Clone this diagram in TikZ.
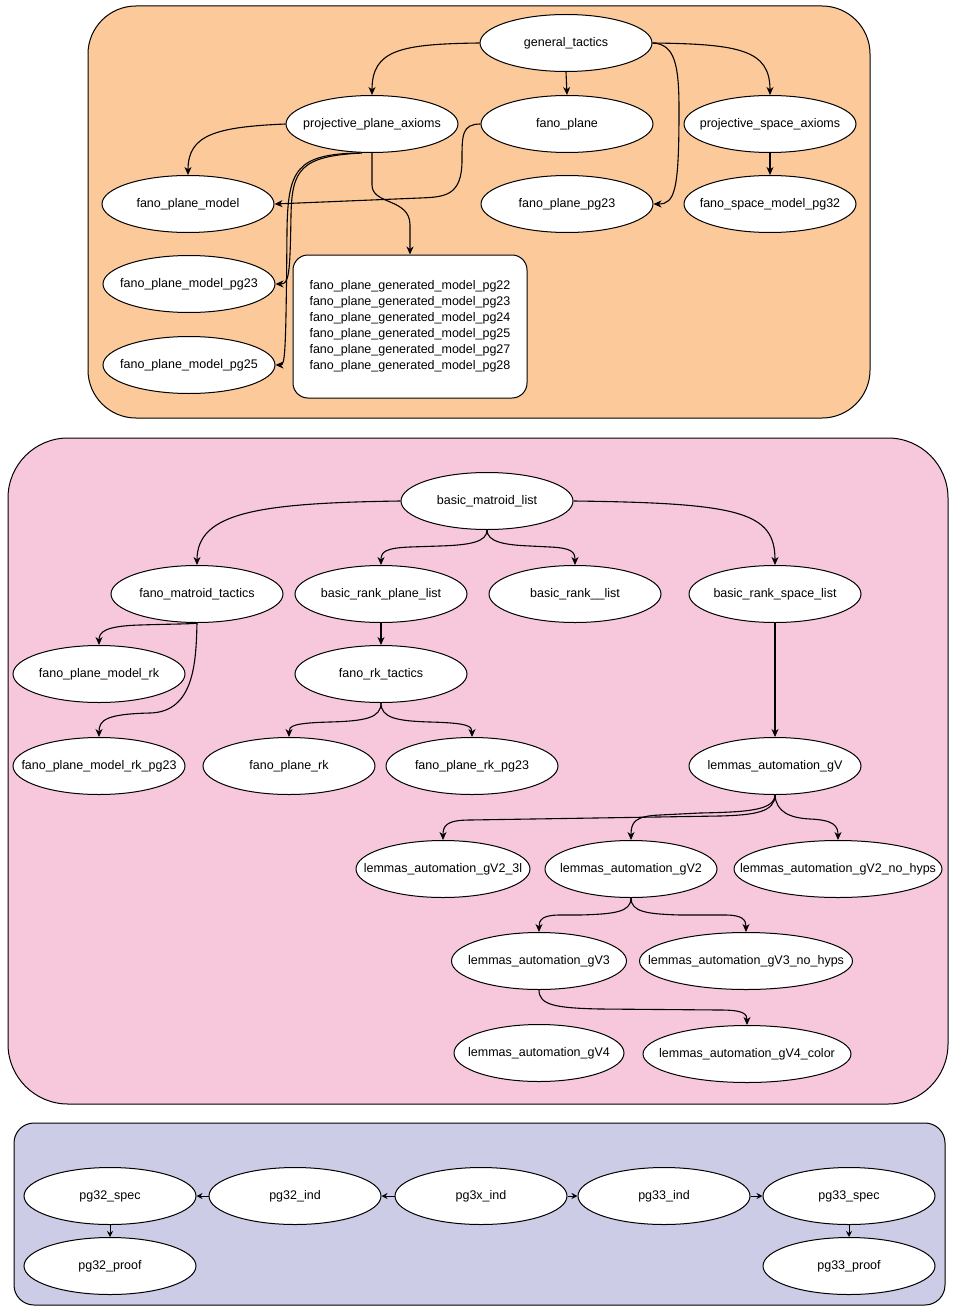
\documentclass[tikz,border=0pt]{standalone}
\usepackage{fontspec}
\setmainfont{Liberation Sans}
\usetikzlibrary{shapes.geometric,arrows.meta}
\definecolor{grpOrange}{HTML}{FCCA9A}
\definecolor{grpPink}{HTML}{F7C8DC}
\definecolor{grpPurple}{HTML}{CCCCE6}
\begin{document}
\begin{tikzpicture}[x=1pt,y=-1pt,
  nd/.style={ellipse,draw=black,line width=1pt,fill=white,minimum width=172pt,minimum height=57pt,inner sep=0pt,font=\fontsize{12.5pt}{16pt}\selectfont,
    execute at begin node={\hbox to 0pt\bgroup\hss},execute at end node={\hss\egroup}},
  ar/.style={line width=1.1pt,-{Stealth[length=8pt,width=7pt,inset=2.5pt]}},
  arS/.style={line width=1pt,-{Stealth[length=6pt,width=6pt,inset=2pt]}},
  grp/.style={draw=black,line width=1pt}
]
\useasboundingbox (0,0) rectangle (953,1308);
% groups
\path[grp,fill=grpOrange,rounded corners=48pt] (88,6) rectangle (870,418);
\path[grp,fill=grpPink,rounded corners=60pt] (8,438) rectangle (948,1104);
\path[grp,fill=grpPurple,rounded corners=20pt] (14,1123) rectangle (945,1305);

% top nodes
\node[nd] (gt) at (566,43) {general\_tactics};
\node[nd] (ppa) at (372,124) {projective\_plane\_axioms};
\node[nd] (fp) at (567,124) {fano\_plane};
\node[nd] (psa) at (770,124) {projective\_space\_axioms};
\node[nd] (fpm) at (188,204) {fano\_plane\_model};
\node[nd] (fpp) at (567,204) {fano\_plane\_pg23};
\node[nd] (fsm) at (770,204) {fano\_space\_model\_pg32};
\node[nd] (fpm23) at (189,284) {fano\_plane\_model\_pg23};
\node[nd] (fpm25) at (189,365) {fano\_plane\_model\_pg25};
\node[draw=black,line width=1pt,fill=white,rounded corners=15pt,minimum width=234pt,minimum height=143pt,align=left,font=\fontsize{12.5pt}{16pt}\selectfont] (gen) at (410,326.5)
 {fano\_plane\_generated\_model\_pg22\\fano\_plane\_generated\_model\_pg23\\fano\_plane\_generated\_model\_pg24\\fano\_plane\_generated\_model\_pg25\\fano\_plane\_generated\_model\_pg27\\fano\_plane\_generated\_model\_pg28};

% top edges
\draw[ar] (gt.west) .. controls (400,44) and (372,50) .. (ppa.north);
\draw[ar] (gt.south) -- (fp.north);
\draw[ar] (gt.east) .. controls (740,44) and (770,50) .. (psa.north);
\draw[ar] (gt.east) .. controls (675,44) and (679,65) .. (679,110) .. controls (679,190) and (675,204) .. (fpp.east);
\draw[ar] (psa.south) -- (fsm.north);
\draw[ar] (ppa.west) .. controls (215,127) and (188,135) .. (fpm.north);
\draw[ar] (fp.west) .. controls (462,124) and (462,135) .. (462,160) .. controls (462,196) and (445,197) .. (420,198) -- (fpm.east);
\draw[ar] ([xshift=-10pt]ppa.south) .. controls (300,156) and (292,170) .. (291,215) .. controls (290,275) and (289,284) .. (fpm23.east);
\draw[ar] ([xshift=-12pt]ppa.south) .. controls (296,154) and (288,170) .. (287,230) .. controls (286,355) and (285,365) .. (fpm25.east);
\draw[ar] (ppa.south) -- (372,185) .. controls (372,205) and (410,198) .. (410,225) -- (gen.north);

% middle nodes
\node[nd] (bml) at (487,501) {basic\_matroid\_list};
\node[nd] (fmt) at (197,594) {fano\_matroid\_tactics};
\node[nd] (brpl) at (381,594) {basic\_rank\_plane\_list};
\node[nd] (brl) at (575,594) {basic\_rank\_\_list};
\node[nd] (brsl) at (775,594) {basic\_rank\_space\_list};
\node[nd] (fpmr) at (99,674) {fano\_plane\_model\_rk};
\node[nd] (frt) at (381,674) {fano\_rk\_tactics};
\node[nd] (fpmr23) at (99,766) {fano\_plane\_model\_rk\_pg23};
\node[nd] (fpr) at (289,766) {fano\_plane\_rk};
\node[nd] (fprp) at (472,766) {fano\_plane\_rk\_pg23};
\node[nd] (lagV) at (775,766) {lemmas\_automation\_gV};
\node[nd,minimum width=174pt] (g23l) at (443,869) {lemmas\_automation\_gV2\_3l};
\node[nd] (g2) at (631,869) {lemmas\_automation\_gV2};
\node[nd,minimum width=208pt] (g2nh) at (838,869) {lemmas\_automation\_gV2\_no\_hyps};
\node[nd,minimum width=175pt] (g3) at (539,961) {lemmas\_automation\_gV3};
\node[nd,minimum width=213pt] (g3nh) at (746,961) {lemmas\_automation\_gV3\_no\_hyps};
\node[nd,minimum width=170pt] (g4) at (539,1053) {lemmas\_automation\_gV4};
\node[nd,minimum width=208pt] (g4c) at (747,1054) {lemmas\_automation\_gV4\_color};

% middle edges
\draw[ar] (bml.west) .. controls (260,503) and (197,512) .. (fmt.north);
\draw[ar] (bml.south) .. controls (487,542) and (470,545) .. (440,546) -- (410,547) .. controls (385,548) and (381,552) .. (brpl.north);
\draw[ar] (bml.south) .. controls (487,542) and (505,545) .. (530,546) -- (550,547) .. controls (572,548) and (575,552) .. (brl.north);
\draw[ar] (bml.east) .. controls (740,503) and (775,512) .. (brsl.north);
\draw[ar] (fmt.south) .. controls (195,624) and (170,624) .. (140,625) .. controls (105,626) and (99,632) .. (fpmr.north);
\draw[ar] (fmt.south) .. controls (196,660) and (195,712) .. (150,713) .. controls (106,714) and (99,720) .. (fpmr23.north);
\draw[ar] (brpl.south) -- (frt.north);
\draw[ar] (frt.south) .. controls (381,718) and (365,721) .. (330,722) .. controls (293,723) and (289,726) .. (fpr.north);
\draw[ar] (frt.south) .. controls (381,718) and (397,721) .. (430,722) .. controls (468,723) and (472,726) .. (fprp.north);
\draw[ar] (brsl.south) -- (lagV.north);
\draw[ar] (lagV.south) .. controls (775,812) and (755,815) .. (720,816) -- (470,820) .. controls (446,820) and (443,826) .. (g23l.north);
\draw[ar] (lagV.south) .. controls (774,810) and (750,812) .. (700,813) -- (660,815) .. controls (635,816) and (631,822) .. (g2.north);
\draw[ar] (lagV.south) .. controls (776,812) and (790,818) .. (810,819) .. controls (834,820) and (838,826) .. (g2nh.north);
\draw[ar] (g2.south) .. controls (631,912) and (615,914) .. (580,915) -- (560,915) .. controls (542,915) and (539,920) .. (g3.north);
\draw[ar] (g2.south) .. controls (631,912) and (647,914) .. (680,915) -- (725,915) .. controls (743,915) and (746,920) .. (g3nh.north);
\draw[ar] (g3.south) .. controls (539,1005) and (555,1008) .. (600,1009) -- (720,1010) .. controls (744,1010) and (747,1014) .. (g4c.north);

% bottom nodes
\node[nd] (p32s) at (110,1196) {pg32\_spec};
\node[nd] (p32i) at (295,1196) {pg32\_ind};
\node[nd] (p3x) at (481,1196) {pg3x\_ind};
\node[nd] (p33i) at (664,1196) {pg33\_ind};
\node[nd] (p33s) at (849,1196) {pg33\_spec};
\node[nd] (p32p) at (110,1266) {pg32\_proof};
\node[nd] (p33p) at (849,1266) {pg33\_proof};

% bottom edges
\draw[arS] (p3x.west) -- (p32i.east);
\draw[arS] (p32i.west) -- (p32s.east);
\draw[arS] (p3x.east) -- (p33i.west);
\draw[arS] (p33i.east) -- (p33s.west);
\draw[arS] (p32s.south) -- (p32p.north);
\draw[arS] (p33s.south) -- (p33p.north);
\end{tikzpicture}
\end{document}
